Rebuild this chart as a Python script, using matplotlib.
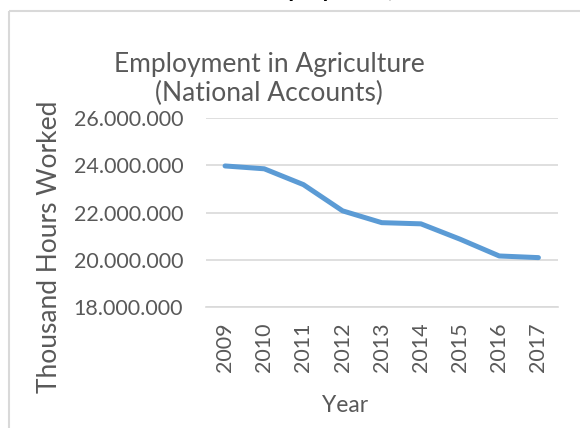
import matplotlib
matplotlib.use("Agg")
import matplotlib.pyplot as plt
from matplotlib.patches import Rectangle

years = ["2009", "2010", "2011", "2012", "2013", "2014", "2015", "2016", "2017"]
hours_worked = [23970000, 23850000, 23180000, 22070000, 21570000, 21520000, 20870000, 20160000, 20090000]
y_ticks = [18000000, 20000000, 22000000, 24000000, 26000000]

plt.rcParams['font.family'] = ['Lato', 'DejaVu Sans']
text_color = "#595959"
grid_color = "#d9d9d9"

fig = plt.figure(figsize=(5.8, 4.28), dpi=100)
W, H = 580, 428

# chart frame
fig.patches.append(Rectangle((9 / W, 1 - 11 / H), 1.2, -1.2, transform=fig.transFigure,
                             fill=False, edgecolor=grid_color, linewidth=1.5, zorder=0))

# heading above the frame, mostly outside the page
fig.text(0.56, 1 + 3 / H, "Employment,", ha="center", va="baseline",
         fontsize=17, fontweight="bold", color="black")

ax = fig.add_axes([205.5 / W, 1 - 307 / H, 352.5 / W, 189 / H])
x = range(len(years))
ax.plot(x, hours_worked, color="#5B9BD5", linewidth=3.6, solid_capstyle="round",
        solid_joinstyle="round", zorder=3)

ax.set_xlim(-0.5, len(years) - 0.5)
ax.set_ylim(y_ticks[0], y_ticks[-1])
ax.set_yticks(y_ticks)
ax.set_yticklabels([f"{v:,}".replace(",", ".") for v in y_ticks])
ax.set_xticks(list(x))
ax.set_xticklabels(years, rotation=90)

ax.grid(axis="y", color=grid_color, linewidth=1.2, zorder=0)
for side in ["top", "right", "left"]:
    ax.spines[side].set_visible(False)
ax.spines["bottom"].set_color(grid_color)
ax.spines["bottom"].set_linewidth(1.2)
ax.tick_params(axis="both", length=0, colors=text_color, labelsize=15.5)
ax.tick_params(axis="y", pad=16)
ax.tick_params(axis="x", pad=11)

fig.text(345 / W, 1 - 405 / H, "Year", ha="center", va="center",
         fontsize=16.5, color=text_color)
fig.text(50 / W, 1 - 247 / H, "Thousand Hours Worked", ha="center", va="center",
         rotation=90, fontsize=19, color=text_color)

fig.text(269 / W, 1 - 79 / H, "Employment in Agriculture\n(National Accounts)",
         ha="center", va="center", fontsize=19, color=text_color, linespacing=1.2)

fig.savefig("out.png", dpi=100)
